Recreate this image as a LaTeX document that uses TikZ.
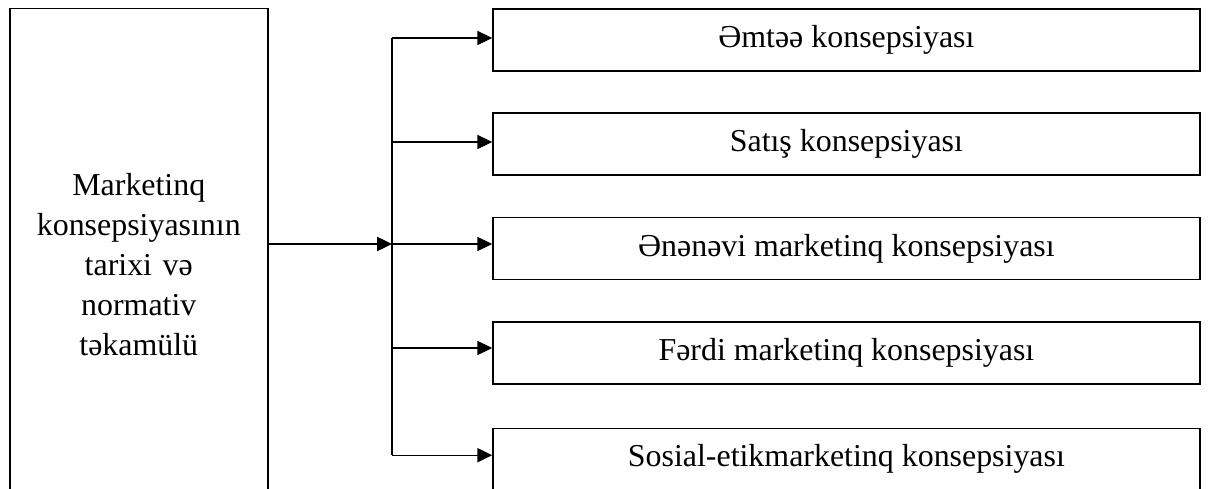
\documentclass[tikz,border=0pt]{standalone}
\usepackage{fontspec}
\setmainfont{Liberation Serif}
\usetikzlibrary{arrows.meta}

\begin{document}
\begin{tikzpicture}[
    mainBox/.style={rectangle, minimum width=6.45cm, minimum height=12.8cm, text width=6cm, align=center, draw=black, line width=1pt, font=\fontsize{22.7}{28.4}\selectfont},
    concept/.style={rectangle, minimum width=17.675cm, minimum height=1.55cm, text centered, draw=black, line width=1pt, font=\fontsize{22.7}{28.4}\selectfont},
    arrow/.style={line width=1pt,-{Triangle[length=10.5pt,width=10pt]}}
]
\useasboundingbox (0,0) rectangle (30.2,12.2);
\clip (0,0) rectangle (30.2,12.2);

% Main block
\node[mainBox] (history) at (3.47,5.59) {Marketinq\\konsepsiyasının\\tarixi və\\normativ\\təkamülü};

% Concepts
\node[concept] (conc1) at (21.16,11.2) {Əmtəə konsepsiyası};
\node[concept] (conc2) at (21.16,8.6) {Satış konsepsiyası};
\node[concept] (conc3) at (21.16,5.99) {Ənənəvi marketinq konsepsiyası};
\node[concept] (conc4) at (21.16,3.38) {Fərdi marketinq konsepsiyası};
\node[concept] (conc5) at (21.16,0.72) {Sosial-etikmarketinq konsepsiyası};

% Bus
\coordinate (busTop) at (9.8,11.25);
\coordinate (busMid) at (9.8,6.1);
\coordinate (busBot) at (9.8,0.82);
\draw[line width=1pt] (busTop) -- (busBot);
\draw[arrow] (history.east |- busMid) -- (busMid);

% Arrows to concepts
\draw[arrow] (busTop) -- (conc1.west |- busTop);
\draw[arrow] (busTop |- 0,8.65) -- (conc2.west |- 0,8.65);
\draw[arrow] (busMid) -- (conc3.west |- busMid);
\draw[arrow] (busTop |- 0,3.5) -- (conc4.west |- 0,3.5);
\draw[arrow] (busBot) -- (conc5.west |- busBot);

\end{tikzpicture}
\end{document}
